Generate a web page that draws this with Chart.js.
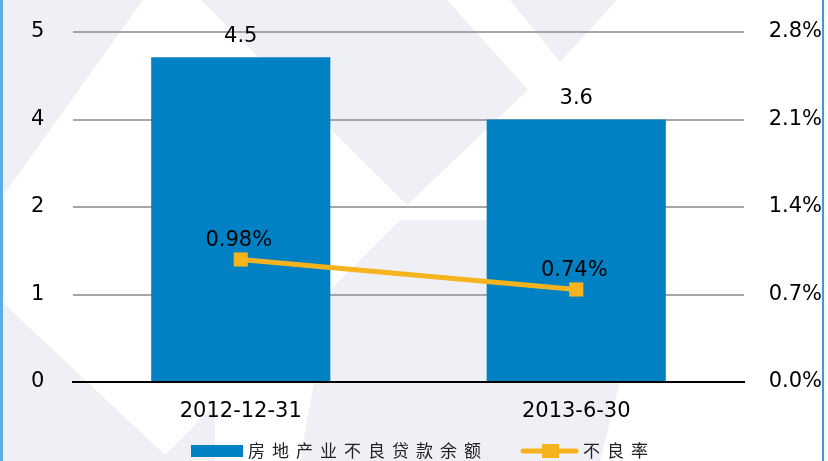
<!DOCTYPE html>
<html>
<head>
<meta charset="utf-8">
<script src="https://cdn.jsdelivr.net/npm/chart.js@4/dist/chart.umd.min.js"></script>
<style>
  html, body { margin: 0; padding: 0; background: #ffffff; }
  #wrap { width: 828px; height: 461px; position: relative; }
</style>
</head>
<body>
<div id="wrap"><canvas id="c" width="828" height="461"></canvas></div>
<script>
// ---- data ----
const categories = ['2012-12-31', '2013-6-30'];
const loanBalance = [4.64, 3.75];          // bar heights as drawn
const loanBalanceLabels = ['4.5', '3.6'];   // labels printed above bars
const nplRate = [0.98, 0.74];               // percent
const nplRateLabels = ['0.98%', '0.74%'];
const leftTickLabels = ['0', '1', '2', '4', '5'];
const rightTickLabels = ['0.0%', '0.7%', '1.4%', '2.1%', '2.8%'];
const seriesNames = ['房地产业不良贷款余额', '不良率'];

const BAR = '#0081C4';
const LINE = '#F5B41E';
const FONT = '"DejaVu Sans", "Liberation Sans", Arial, sans-serif';
const FS = 21;

const bgPlugin = {
  id: 'bg',
  beforeDraw(chart) {
    const ctx = chart.ctx;
    ctx.save();
    ctx.fillStyle = '#ffffff';
    ctx.fillRect(0, 0, chart.width, chart.height);
    ctx.fillStyle = '#eef0f5';
    const polys = [
      [[0,0],[143,0],[0,200]],
      [[201,0],[447,0],[528,90],[407,205]],
      [[510,0],[617,0],[560,62]],
      [[300,461],[330,290],[400,220],[487,220],[487,382],[620,382],[600,461]],
      [[0,300],[165,455],[215,405],[215,461],[0,461]]
    ];
    for (const p of polys) {
      ctx.beginPath();
      ctx.moveTo(p[0][0], p[0][1]);
      for (let i = 1; i < p.length; i++) ctx.lineTo(p[i][0], p[i][1]);
      ctx.closePath();
      ctx.fill();
    }
    ctx.restore();
  },
  afterDraw(chart) {
    const ctx = chart.ctx;
    ctx.save();
    // side borders
    ctx.fillStyle = '#5aaee3';
    ctx.fillRect(0, 0, 3, chart.height);
    ctx.fillStyle = '#3b9ad8';
    ctx.fillRect(822, 0, 2, chart.height);

    // data labels
    ctx.fillStyle = '#000';
    ctx.font = FS + 'px ' + FONT;
    ctx.textAlign = 'center';
    ctx.textBaseline = 'bottom';
    const barMeta = chart.getDatasetMeta(0);
    barMeta.data.forEach((el, i) => {
      ctx.fillText(loanBalanceLabels[i], el.x, el.y - 10);
    });
    const lineMeta = chart.getDatasetMeta(1);
    ctx.textBaseline = 'middle';
    lineMeta.data.forEach((el, i) => {
      ctx.fillText(nplRateLabels[i], el.x - 2, el.y - 19);
    });

    // legend
    const ly = 451;
    ctx.fillStyle = BAR;
    ctx.fillRect(191, 445, 52, 12);
    ctx.fillStyle = '#222';
    ctx.font = '17px "Noto Sans CJK SC", sans-serif';
    ctx.textAlign = 'left';
    ctx.textBaseline = 'middle';
    if ('letterSpacing' in ctx) ctx.letterSpacing = '7px';
    ctx.fillText(seriesNames[0], 248, ly);
    ctx.strokeStyle = LINE;
    ctx.lineWidth = 5;
    ctx.lineCap = 'round';
    ctx.beginPath();
    ctx.moveTo(523, ly);
    ctx.lineTo(576, ly);
    ctx.stroke();
    ctx.fillStyle = LINE;
    ctx.fillRect(542, ly - 7, 17, 14);
    ctx.fillStyle = '#222';
    ctx.fillText(seriesNames[1], 583, ly);
    ctx.restore();
  }
};

new Chart(document.getElementById('c'), {
  type: 'bar',
  data: {
    labels: categories,
    datasets: [
      {
        label: seriesNames[0],
        data: loanBalance,
        yAxisID: 'y',
        backgroundColor: BAR,
        barPercentage: 0.534,
        categoryPercentage: 1,
        order: 2
      },
      {
        type: 'line',
        label: seriesNames[1],
        data: nplRate,
        yAxisID: 'y1',
        borderColor: LINE,
        borderWidth: 5,
        pointStyle: 'rect',
        pointRadius: 10,
        pointHoverRadius: 10,
        pointBackgroundColor: LINE,
        pointBorderColor: LINE,
        pointBorderWidth: 0,
        order: 1
      }
    ]
  },
  options: {
    responsive: false,
    animation: false,
    events: [],
    layout: { padding: { left: 31, right: 6, top: 32, bottom: 0 } },
    plugins: { legend: { display: false }, tooltip: { enabled: false } },
    scales: {
      x: {
        offset: true,
        grid: { display: false, drawTicks: false },
        border: { display: true, color: '#000', width: 2 },
        ticks: { color: '#000', font: { family: FONT, size: FS }, padding: 17, maxRotation: 0 },
        afterFit(s) { s.height = 79; }
      },
      y: {
        position: 'left',
        min: 0, max: 5,
        ticks: {
          stepSize: 1.25,
          color: '#000',
          font: { family: FONT, size: FS },
          padding: 0,
          crossAlign: 'far',
          callback: (v, i) => leftTickLabels[i]
        },
        grid: { color: '#a6a6a6', lineWidth: 2, drawTicks: false },
        border: { display: false },
        afterFit(s) { s.width = 42; }
      },
      y1: {
        position: 'right',
        min: 0, max: 2.8,
        ticks: {
          stepSize: 0.7,
          color: '#000',
          font: { family: FONT, size: FS },
          padding: 0,
          crossAlign: 'far',
          callback: (v, i) => rightTickLabels[i]
        },
        grid: { display: false, drawTicks: false },
        border: { display: false },
        afterFit(s) { s.width = 78; }
      }
    }
  },
  plugins: [bgPlugin]
});
</script>
</body>
</html>
